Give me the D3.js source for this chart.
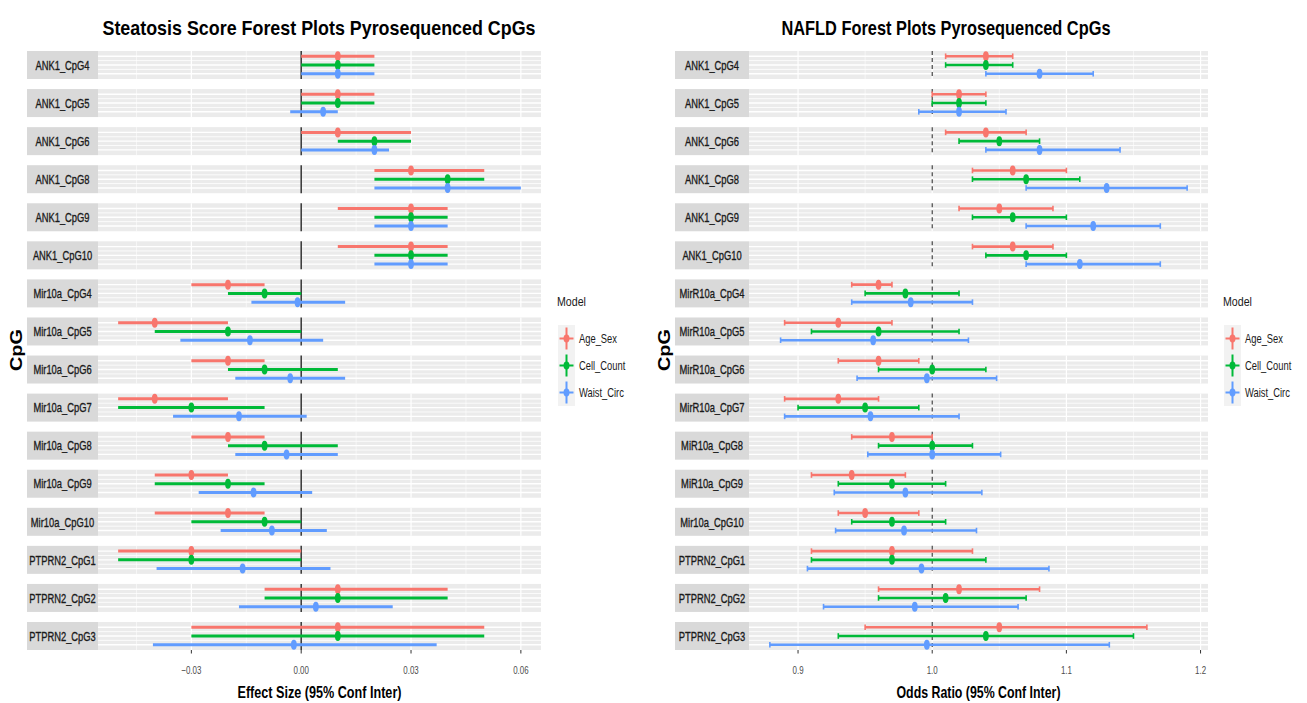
<!DOCTYPE html>
<html>
<head>
<meta charset="utf-8">
<script src="https://cdn.jsdelivr.net/npm/d3@7"></script>
<style>
  body { margin: 0; background: #fff; }
  svg text { font-family: "Liberation Sans", Arial, sans-serif; }
</style>
</head>
<body>
<div id="chart"></div>
<script>
// ---- data ----
var models = ["Age_Sex", "Cell_Count", "Waist_Circ"];
var modelColors = ["#F8766D", "#00BA38", "#619CFF"];

var steatCpGs = ["ANK1_CpG4", "ANK1_CpG5", "ANK1_CpG6", "ANK1_CpG8", "ANK1_CpG9", "ANK1_CpG10",
  "Mir10a_CpG4", "Mir10a_CpG5", "Mir10a_CpG6", "Mir10a_CpG7", "Mir10a_CpG8", "Mir10a_CpG9",
  "Mir10a_CpG10", "PTPRN2_CpG1", "PTPRN2_CpG2", "PTPRN2_CpG3"];

var nafldCpGs = ["ANK1_CpG4", "ANK1_CpG5", "ANK1_CpG6", "ANK1_CpG8", "ANK1_CpG9", "ANK1_CpG10",
  "MirR10a_CpG4", "MirR10a_CpG5", "MirR10a_CpG6", "MirR10a_CpG7", "MiR10a_CpG8", "MiR10a_CpG9",
  "Mir10a_CpG10", "PTPRN2_CpG1", "PTPRN2_CpG2", "PTPRN2_CpG3"];

// [estimate, lower, upper] per CpG
var steatAgeSex = [[0.01, 0, 0.02], [0.01, 0, 0.02], [0.01, 0, 0.03], [0.03, 0.02, 0.05], [0.03, 0.01, 0.04], [0.03, 0.01, 0.04],
  [-0.02, -0.03, -0.01], [-0.04, -0.05, -0.02], [-0.02, -0.03, -0.01], [-0.04, -0.05, -0.02], [-0.02, -0.03, -0.01], [-0.03, -0.04, -0.02],
  [-0.02, -0.04, -0.01], [-0.03, -0.05, 0], [0.01, -0.01, 0.04], [0.01, -0.03, 0.05]];
var steatCellCount = [[0.01, 0, 0.02], [0.01, 0, 0.02], [0.02, 0.01, 0.03], [0.04, 0.02, 0.05], [0.03, 0.02, 0.04], [0.03, 0.02, 0.04],
  [-0.01, -0.02, 0], [-0.02, -0.04, 0], [-0.01, -0.02, 0.01], [-0.03, -0.05, -0.01], [-0.01, -0.02, 0.01], [-0.02, -0.04, -0.01],
  [-0.01, -0.03, 0], [-0.03, -0.05, 0], [0.01, -0.01, 0.04], [0.01, -0.03, 0.05]];
var steatWaist = [[0.01, 0, 0.02], [0.006, -0.003, 0.01], [0.02, 0, 0.024], [0.04, 0.02, 0.06], [0.03, 0.02, 0.04], [0.03, 0.02, 0.04],
  [-0.001, -0.0136, 0.012], [-0.014, -0.033, 0.006], [-0.003, -0.018, 0.012], [-0.017, -0.035, 0.0015], [-0.004, -0.018, 0.01], [-0.013, -0.028, 0.003],
  [-0.008, -0.022, 0.007], [-0.016, -0.0395, 0.008], [0.004, -0.017, 0.025], [-0.002, -0.0405, 0.037]];

var nafldAgeSex = [[1.04, 1.01, 1.06], [1.02, 1.0, 1.04], [1.04, 1.01, 1.07], [1.06, 1.03, 1.10], [1.05, 1.02, 1.09], [1.06, 1.03, 1.09],
  [0.96, 0.94, 0.97], [0.93, 0.89, 0.97], [0.96, 0.93, 0.99], [0.93, 0.89, 0.96], [0.97, 0.94, 1.0], [0.94, 0.91, 0.98],
  [0.95, 0.93, 0.99], [0.97, 0.91, 1.03], [1.02, 0.96, 1.08], [1.05, 0.95, 1.16]];
var nafldCellCount = [[1.04, 1.01, 1.06], [1.02, 1.0, 1.04], [1.05, 1.02, 1.08], [1.07, 1.03, 1.11], [1.06, 1.03, 1.10], [1.07, 1.04, 1.10],
  [0.98, 0.95, 1.02], [0.96, 0.91, 1.02], [1.0, 0.96, 1.04], [0.95, 0.90, 0.99], [1.0, 0.96, 1.03], [0.97, 0.93, 1.01],
  [0.97, 0.94, 1.01], [0.97, 0.91, 1.04], [1.01, 0.96, 1.07], [1.04, 0.93, 1.15]];
var nafldWaist = [[1.08, 1.04, 1.12], [1.02, 0.99, 1.055], [1.08, 1.04, 1.14], [1.13, 1.07, 1.19], [1.12, 1.07, 1.17], [1.11, 1.07, 1.17],
  [0.984, 0.94, 1.03], [0.956, 0.887, 1.027], [0.996, 0.944, 1.048], [0.954, 0.89, 1.02], [1.0, 0.952, 1.051], [0.98, 0.927, 1.037],
  [0.979, 0.928, 1.033], [0.992, 0.907, 1.087], [0.987, 0.919, 1.064], [0.996, 0.879, 1.132]];

var steatTicks = [-0.03, 0, 0.03, 0.06];
var nafldTicks = [0.9, 1.0, 1.1, 1.2];

var svg = d3.select("#chart").append("svg")
  .attr("width", 1307)
  .attr("height", 703);

// text squeezed horizontally, the picture looks like it was narrowed
function squeezedText(parent, x, y, str, size, sx, anchor) {
  return parent.append("text")
    .attr("transform", "translate(" + x + "," + y + ") scale(" + sx + ",1)")
    .attr("text-anchor", anchor || "start")
    .attr("font-size", size)
    .text(str);
}

function drawForest(opts) {
  var g = svg.append("g");
  var rows = [];
  opts.cpgs.forEach(function (c, i) {
    opts.series.forEach(function (s, m) {
      rows.push({cpg: c, model: models[m], est: s[i][0], lo: s[i][1], hi: s[i][2], color: modelColors[m]});
    });
  });

  var lo = d3.min(rows, function (d) { return d.lo; });
  var hi = d3.max(rows, function (d) { return d.hi; });
  var pad = (hi - lo) * 0.05;
  var x = d3.scaleLinear().domain([lo - pad, hi + pad]).range([opts.panelX0, opts.panelX1]);

  var facet = d3.scaleBand().domain(opts.cpgs).range([51, 650]).paddingInner(0.2645).paddingOuter(0);
  var h = facet.bandwidth();
  var yIn = d3.scalePoint().domain(models).range([0, h]).padding(0.6);

  var minorX = [];
  for (var i = 0; i < opts.ticks.length - 1; i++) minorX.push((opts.ticks[i] + opts.ticks[i + 1]) / 2);
  var step = opts.ticks[1] - opts.ticks[0];
  if (opts.ticks[0] - step / 2 > x.domain()[0]) minorX.unshift(opts.ticks[0] - step / 2);
  var last = opts.ticks[opts.ticks.length - 1];
  if (last + step / 2 < x.domain()[1]) minorX.push(last + step / 2);
  var minorY = [(yIn(models[0]) + yIn(models[1])) / 2, (yIn(models[1]) + yIn(models[2])) / 2];

  var panels = g.selectAll(".facet")
    .data(opts.cpgs)
    .enter().append("g")
    .attr("class", "facet")
    .attr("transform", function (d) { return "translate(0," + facet(d) + ")"; });

  // strip
  panels.append("rect")
    .attr("x", opts.stripX0).attr("y", 0)
    .attr("width", opts.panelX0 - opts.stripX0).attr("height", h)
    .attr("fill", "#D9D9D9");
  panels.each(function (d) {
    squeezedText(d3.select(this), (opts.stripX0 + opts.panelX0) / 2, h / 2 + 4.7, d, 13, 0.72, "middle")
      .attr("fill", "#1A1A1A")
      .attr("stroke", "#1A1A1A").attr("stroke-width", 0.35);
  });

  // panel
  panels.append("rect")
    .attr("x", opts.panelX0).attr("y", 0)
    .attr("width", opts.panelX1 - opts.panelX0).attr("height", h)
    .attr("fill", "#EBEBEB");

  panels.selectAll(".gminx").data(minorX).enter().append("line")
    .attr("x1", function (d) { return x(d); }).attr("x2", function (d) { return x(d); })
    .attr("y1", 0).attr("y2", h)
    .attr("stroke", "#fff").attr("stroke-width", 0.6);
  panels.selectAll(".gminy").data(minorY).enter().append("line")
    .attr("x1", opts.panelX0).attr("x2", opts.panelX1)
    .attr("y1", function (d) { return d; }).attr("y2", function (d) { return d; })
    .attr("stroke", "#fff").attr("stroke-width", 0.8);
  panels.selectAll(".gmajx").data(opts.ticks).enter().append("line")
    .attr("x1", function (d) { return x(d); }).attr("x2", function (d) { return x(d); })
    .attr("y1", 0).attr("y2", h)
    .attr("stroke", "#fff").attr("stroke-width", 1.2);
  panels.selectAll(".gmajy").data(models).enter().append("line")
    .attr("x1", opts.panelX0).attr("x2", opts.panelX1)
    .attr("y1", function (d) { return yIn(d); }).attr("y2", function (d) { return yIn(d); })
    .attr("stroke", "#fff").attr("stroke-width", 1.4);

  // reference line
  panels.append("line")
    .attr("x1", x(opts.ref)).attr("x2", x(opts.ref))
    .attr("y1", 0).attr("y2", h)
    .attr("stroke", "#333").attr("stroke-width", opts.dashed ? 1.1 : 1.5)
    .attr("stroke-dasharray", opts.dashed ? "4,3" : null);

  // intervals
  panels.each(function (c) {
    var p = d3.select(this);
    var sub = rows.filter(function (r) { return r.cpg === c; });
    p.selectAll(".ci").data(sub).enter().append("line")
      .attr("x1", function (d) { return x(d.lo); }).attr("x2", function (d) { return x(d.hi); })
      .attr("y1", function (d) { return yIn(d.model); }).attr("y2", function (d) { return yIn(d.model); })
      .attr("stroke", function (d) { return d.color; })
      .attr("stroke-width", opts.lineW);
    if (opts.caps) {
      p.selectAll(".capl").data(sub).enter().append("line")
        .attr("x1", function (d) { return x(d.lo); }).attr("x2", function (d) { return x(d.lo); })
        .attr("y1", function (d) { return yIn(d.model) - 2.8; }).attr("y2", function (d) { return yIn(d.model) + 2.8; })
        .attr("stroke", function (d) { return d.color; }).attr("stroke-width", 1.6);
      p.selectAll(".caph").data(sub).enter().append("line")
        .attr("x1", function (d) { return x(d.hi); }).attr("x2", function (d) { return x(d.hi); })
        .attr("y1", function (d) { return yIn(d.model) - 2.8; }).attr("y2", function (d) { return yIn(d.model) + 2.8; })
        .attr("stroke", function (d) { return d.color; }).attr("stroke-width", 1.6);
    }
    p.selectAll(".pt").data(sub).enter().append("ellipse")
      .attr("cx", function (d) { return x(d.est); })
      .attr("cy", function (d) { return yIn(d.model); })
      .attr("rx", 2.9).attr("ry", 5)
      .attr("fill", function (d) { return d.color; });
  });

  // x axis
  var axisY = facet(opts.cpgs[opts.cpgs.length - 1]) + h;
  var ax = g.append("g");
  ax.selectAll("line").data(opts.ticks).enter().append("line")
    .attr("x1", function (d) { return x(d); }).attr("x2", function (d) { return x(d); })
    .attr("y1", axisY).attr("y2", axisY + 3.5)
    .attr("stroke", "#333").attr("stroke-width", 1);
  opts.ticks.forEach(function (t) {
    squeezedText(ax, x(t), axisY + 24, opts.fmt(t), 11, 0.72, "middle").attr("fill", "#4D4D4D");
  });

  var cx = (opts.panelX0 + opts.panelX1) / 2;
  g.append("text")
    .attr("x", cx).attr("y", 698)
    .attr("text-anchor", "middle").attr("font-size", 16.5).attr("font-weight", "bold")
    .attr("textLength", 164).attr("lengthAdjust", "spacingAndGlyphs")
    .text(opts.xTitle);

  g.append("text")
    .attr("x", opts.titleX).attr("y", 35)
    .attr("text-anchor", "middle").attr("font-size", 21).attr("font-weight", "bold")
    .attr("textLength", opts.titleW).attr("lengthAdjust", "spacingAndGlyphs")
    .text(opts.title);

  g.append("text")
    .attr("transform", "translate(" + opts.yTitleX + ",350) rotate(-90)")
    .attr("text-anchor", "middle").attr("font-size", 17).attr("font-weight", "bold")
    .attr("textLength", 42).attr("lengthAdjust", "spacingAndGlyphs")
    .text("CpG");

  // legend
  var lg = g.append("g").attr("transform", "translate(" + opts.legendX + ",0)");
  squeezedText(lg, -1, 306, "Model", 12.5, 0.85, "start").attr("fill", "#1A1A1A");
  var keyY = d3.scaleBand().domain(models).range([325, 406]);
  lg.append("rect")
    .attr("x", 0).attr("y", 325).attr("width", 17).attr("height", 81)
    .attr("fill", "#F2F2F2");
  models.forEach(function (m, i) {
    var ky = keyY(m) + keyY.bandwidth() / 2;
    lg.append("line").attr("x1", 1.5).attr("x2", 15.5).attr("y1", ky).attr("y2", ky)
      .attr("stroke", modelColors[i]).attr("stroke-width", 2);
    lg.append("line").attr("x1", 8.5).attr("x2", 8.5).attr("y1", ky - 11).attr("y2", ky + 11)
      .attr("stroke", modelColors[i]).attr("stroke-width", 2);
    lg.append("ellipse").attr("cx", 8.5).attr("cy", ky).attr("rx", 3).attr("ry", 4)
      .attr("fill", modelColors[i]);
    squeezedText(lg, 21, ky + 4.5, m, 12, 0.78, "start").attr("fill", "#1A1A1A");
  });
}

drawForest({
  cpgs: steatCpGs,
  series: [steatAgeSex, steatCellCount, steatWaist],
  ticks: steatTicks,
  fmt: d3.format(".2f"),
  ref: 0,
  dashed: false,
  caps: false,
  lineW: 3,
  stripX0: 27, panelX0: 98, panelX1: 541,
  title: "Steatosis Score Forest Plots Pyrosequenced CpGs",
  titleX: 319, titleW: 433,
  xTitle: "Effect Size (95% Conf Inter)",
  yTitleX: 22,
  legendX: 558
});

drawForest({
  cpgs: nafldCpGs,
  series: [nafldAgeSex, nafldCellCount, nafldWaist],
  ticks: nafldTicks,
  fmt: d3.format(".1f"),
  ref: 1,
  dashed: true,
  caps: true,
  lineW: 2.6,
  stripX0: 675, panelX0: 749, panelX1: 1208,
  title: "NAFLD Forest Plots Pyrosequenced CpGs",
  titleX: 946, titleW: 329,
  xTitle: "Odds Ratio (95% Conf Inter)",
  yTitleX: 670,
  legendX: 1224
});
</script>
</body>
</html>
